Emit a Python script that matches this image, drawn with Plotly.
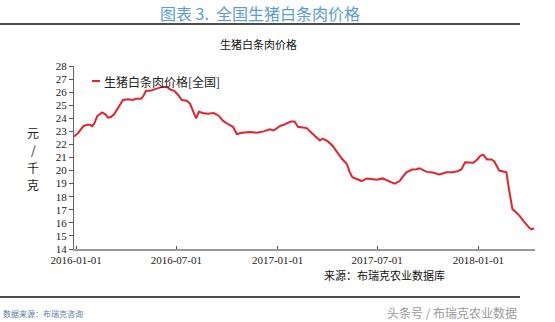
import plotly.graph_objects as go

dates = [
    "2015-12-28", "2016-01-05", "2016-01-14", "2016-01-21", "2016-01-26", "2016-01-30",
    "2016-02-03", "2016-02-08", "2016-02-17", "2016-02-23", "2016-02-28", "2016-03-04",
    "2016-03-10", "2016-03-17", "2016-03-26", "2016-04-04", "2016-04-13", "2016-04-19",
    "2016-04-28", "2016-05-02", "2016-05-07", "2016-05-14", "2016-05-21", "2016-05-29",
    "2016-06-05", "2016-06-14", "2016-06-20", "2016-06-27", "2016-07-04", "2016-07-11",
    "2016-07-20", "2016-07-26", "2016-07-31", "2016-08-06", "2016-08-11", "2016-08-18",
    "2016-08-27", "2016-09-07", "2016-09-16", "2016-09-24", "2016-10-01", "2016-10-12",
    "2016-10-19", "2016-10-28", "2016-11-12", "2016-11-24", "2016-12-07", "2016-12-18",
    "2016-12-25", "2017-01-01", "2017-01-05", "2017-01-12", "2017-01-18", "2017-01-25",
    "2017-02-01", "2017-02-07", "2017-02-16", "2017-02-23", "2017-03-06", "2017-03-13",
    "2017-03-19", "2017-03-24", "2017-04-02", "2017-04-11", "2017-04-20", "2017-04-28",
    "2017-05-07", "2017-05-12", "2017-05-17", "2017-05-27", "2017-06-03", "2017-06-12",
    "2017-06-21", "2017-06-30", "2017-07-11", "2017-07-20", "2017-07-27", "2017-08-02",
    "2017-08-11", "2017-08-18", "2017-08-23", "2017-09-03", "2017-09-11", "2017-09-16",
    "2017-09-23", "2017-09-29", "2017-10-10", "2017-10-22", "2017-11-04", "2017-11-15",
    "2017-11-24", "2017-12-01", "2017-12-08", "2017-12-16", "2017-12-23", "2017-12-30",
    "2018-01-05", "2018-01-10", "2018-01-17", "2018-01-25", "2018-01-30", "2018-02-08",
    "2018-02-15", "2018-02-21", "2018-02-26", "2018-03-04", "2018-03-11", "2018-03-17",
    "2018-03-24", "2018-03-29", "2018-04-04", "2018-04-08", "2018-04-12",
]
prices = [
    22.6, 22.9, 23.4, 23.5, 23.5, 23.4,
    23.6, 24.15, 24.45, 24.3, 24.05, 24.1,
    24.3, 24.8, 25.4, 25.45, 25.4, 25.5,
    25.5, 25.7, 26.1, 26.1, 26.2, 26.3,
    26.4, 26.4, 26.2, 26.1, 25.8, 25.4,
    25.35, 25.1, 24.6, 24.0, 24.5, 24.4,
    24.35, 24.4, 24.2, 23.8, 23.6, 23.35,
    22.8, 22.9, 22.95, 22.9, 23.0, 23.15,
    23.07, 23.25, 23.4, 23.5, 23.6, 23.75,
    23.75, 23.35, 23.3, 23.25, 22.8, 22.5,
    22.3, 22.45, 22.25, 21.9, 21.4, 20.9,
    20.5, 19.9, 19.5, 19.3, 19.2, 19.4,
    19.35, 19.3, 19.4, 19.2, 19.1, 19.0,
    19.2, 19.6, 19.87, 20.08, 20.1, 20.18,
    20.05, 19.9, 19.85, 19.7, 19.87, 19.87,
    19.95, 20.08, 20.64, 20.6, 20.6, 20.85,
    21.15, 21.2, 20.85, 20.85, 20.7, 20.0,
    19.95, 19.87, 18.5, 17.05, 16.8, 16.54,
    16.15, 15.9, 15.6, 15.5, 15.6,
]
series_name = "生猪白条肉价格[全国]"
x_ticks = ["2016-01-01", "2016-07-01", "2017-01-01", "2017-07-01", "2018-01-01"]
y_ticks = list(range(14, 29))
y_title_chars = ["元", "/", "千", "克"]

CJK = "Noto Sans CJK SC"
NUM = "Liberation Serif"
LINE_COLOR = "#e3222b"

fig = go.Figure()
fig.add_trace(go.Scatter(
    x=dates, y=prices, mode="lines", name=series_name,
    line=dict(color=LINE_COLOR, width=2), showlegend=False,
))

pl, pr, pt, pb = 74, 535, 66, 249


def px_x(px):
    return (px - pl) / (pr - pl)


def px_y(py):
    return (pb - py) / (pb - pt)


fig.update_layout(
    width=555, height=322,
    margin=dict(l=pl, r=555 - pr, t=pt, b=322 - pb),
    paper_bgcolor="white", plot_bgcolor="white",
    xaxis=dict(
        type="date", range=["2015-12-28", "2018-04-14"],
        tickvals=x_ticks, ticktext=x_ticks,
        ticks="inside", ticklen=3, tickcolor="#555",
        showline=True, linecolor="#999", linewidth=2,
        showgrid=False, zeroline=False,
        tickfont=dict(family=NUM, size=11, color="#222"),
    ),
    yaxis=dict(
        range=[14, 28], tickvals=y_ticks,
        ticks="outside", ticklen=4, tickcolor="#555",
        showline=True, linecolor="#666", linewidth=1,
        showgrid=False, zeroline=False,
        tickfont=dict(family=NUM, size=11, color="#222"),
    ),
    font=dict(family=CJK),
)

annotations = [
    dict(text="图表 3.&nbsp;&nbsp;全国生猪白条肉价格", x=260, y=13, xanchor="center",
         font=dict(size=16, color="#5b9bd5", family=CJK)),
    dict(text="生猪白条肉价格", x=258, y=44, xanchor="center",
         font=dict(size=11, color="#111", family=CJK)),
    dict(text=series_name, x=103, y=81, xanchor="left",
         font=dict(size=12, color="#222", family=CJK)),
    dict(text="来源：布瑞克农业数据库", x=384, y=275, xanchor="center",
         font=dict(size=11, color="#111", family=CJK)),
    dict(text="数据来源：布瑞克咨询", x=2, y=313, xanchor="left",
         font=dict(size=8, color="#5a7fa8", family=CJK)),
    dict(text="头条号 / 布瑞克农业数据", x=452, y=312, xanchor="center",
         font=dict(size=12, color="#9a9a9a", family=CJK)),
]
for ch, yy in zip(y_title_chars, [132, 149.5, 167, 184.5]):
    annotations.append(dict(text=ch, x=33, y=yy, xanchor="center",
                            font=dict(size=12, color="#222", family=CJK)))

for a in annotations:
    px, py = a.pop("x"), a.pop("y")
    fig.add_annotation(xref="paper", yref="paper", showarrow=False,
                       x=px_x(px), y=px_y(py), yanchor="middle",
                       borderpad=0, **a)

# legend swatch
fig.add_shape(type="line", xref="paper", yref="paper",
              x0=px_x(92), x1=px_x(100), y0=px_y(81), y1=px_y(81),
              line=dict(color=LINE_COLOR, width=2))

# horizontal rules
for yy in (24, 297):
    fig.add_shape(type="line", xref="paper", yref="paper",
                  x0=px_x(0), x1=px_x(520), y0=px_y(yy), y1=px_y(yy),
                  line=dict(color="#111", width=1.5))

fig.write_html("out.html")
